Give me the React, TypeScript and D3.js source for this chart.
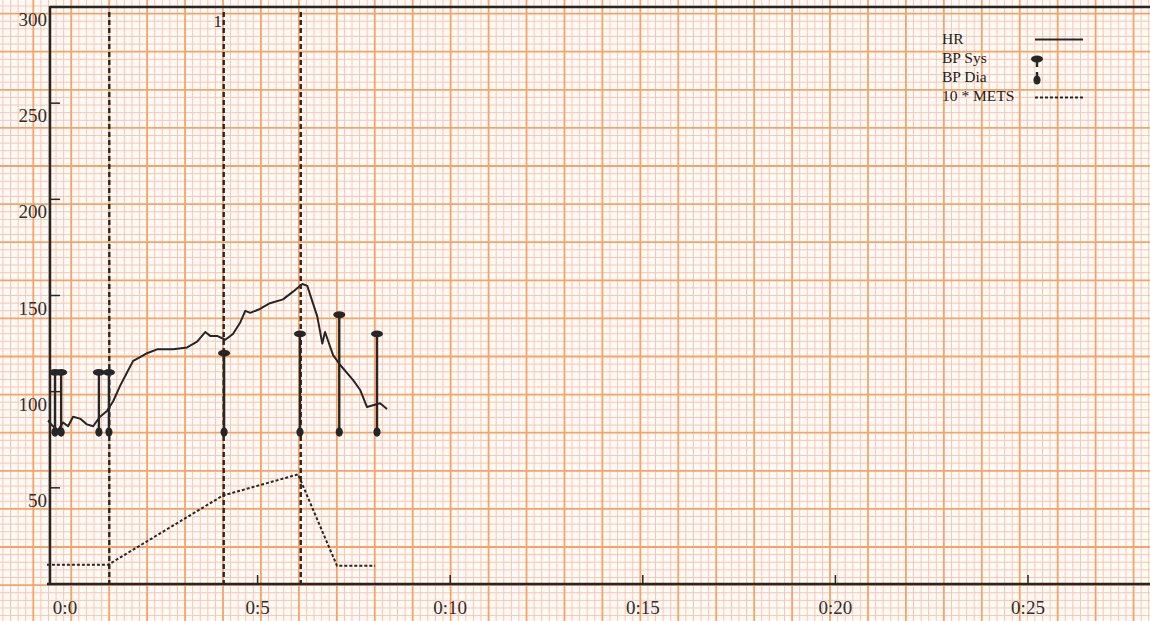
import * as d3 from "d3";
import React, { useEffect, useRef } from "react";

// heart rate trace, time in minutes
const hrTimes = [
  -0.44, -0.31, -0.18, -0.05, 0.08, 0.21, 0.39, 0.57, 0.73, 0.91, 1.09, 1.25,
  1.43, 1.61, 1.77, 1.95, 2.13, 2.39, 2.65, 2.81, 3.17, 3.43, 3.64, 3.77, 3.95,
  4.16, 4.36, 4.55, 4.68, 4.81, 5.06, 5.32, 5.66, 5.92, 6.16, 6.29, 6.55, 6.68,
  6.75, 6.96, 7.14, 7.48, 7.66, 7.84, 8.18, 8.36,
];
const hrValues = [
  85, 82, 80, 84, 82, 87, 86, 83, 82, 87, 90, 95, 103, 110, 116, 118, 120, 122,
  122, 122, 123, 126, 131, 129, 129, 127, 130, 136, 142, 141, 143, 146, 148, 152,
  156, 155, 139, 125, 131, 119, 114, 106, 101, 92, 94, 91,
];

// blood pressure readings
const bpTimes = [-0.26, -0.1, 0.88, 1.14, 4.13, 6.1, 7.12, 8.1];
const bpSys = [110, 110, 110, 110, 120, 130, 140, 130];
const bpDia = [79, 79, 79, 79, 79, 79, 79, 79];

// 10 * METS
const metTimes = [-0.47, 1.12, 4.1, 6.05, 7.06, 8.05];
const metValues = [10, 10, 46, 57, 9.5, 9.5];

// stage change markers
const stageTimes = [1.15, 4.12, 6.12];
const stageLabels = ["", "1", ""];

const xTicks = [0, 5, 10, 15, 20, 25];
const xTickLabels = ["0:0", "0:5", "0:10", "0:15", "0:20", "0:25"];
const yTicks = [50, 100, 150, 200, 250, 300];
const legendLabels = ["HR", "BP Sys", "BP Dia", "10 * METS"];

const App = () => {
  const svgRef = useRef<SVGSVGElement>(null);

  useEffect(() => {
    const width = 1150;
    const height = 621;
    const svg = d3.select(svgRef.current);
    svg.selectAll("*").remove();
    svg.attr("width", width).attr("height", height);

    const ink = "#262626";
    const font = "'Liberation Serif', 'Times New Roman', serif";

    // paper
    svg.append("rect").attr("width", width).attr("height", height).attr("fill", "#fffaf5");

    // ECG paper grid: 5 small squares per big square
    const bigX = 37.94;
    const bigY = 38.1;
    const vLines = d3.range(0, 36 * 5).map((i) => ({ p: 33.3 - bigX + (i * bigX) / 5, major: i % 5 === 0 }));
    const hLines = d3.range(0, 19 * 5).map((i) => ({ p: 13.6 - bigY + (i * bigY) / 5, major: i % 5 === 0 }));
    const grid = svg.append("g");
    [false, true].forEach((major) => {
      grid
        .selectAll(null)
        .data(vLines.filter((d) => d.major === major && d.p >= -2 && d.p <= width + 2))
        .join("line")
        .attr("x1", (d) => d.p)
        .attr("x2", (d) => d.p)
        .attr("y1", 0)
        .attr("y2", height)
        .attr("stroke", major ? "#f7a266" : "#f7c6b4")
        .attr("stroke-width", major ? 1.8 : 1);
      grid
        .selectAll(null)
        .data(hLines.filter((d) => d.major === major && d.p >= -2 && d.p <= height + 2))
        .join("line")
        .attr("x1", 0)
        .attr("x2", width)
        .attr("y1", (d) => d.p)
        .attr("y2", (d) => d.p)
        .attr("stroke", major ? "#f7a266" : "#f7c6b4")
        .attr("stroke-width", major ? 1.8 : 1);
    });

    const left = 50;
    const xScale = d3.scaleLinear().domain([0, 25]).range([65, 1028]);
    const yScale = d3.scaleLinear().domain([0, 300]).range([584, 7]);

    // frame
    svg.append("line").attr("x1", left).attr("x2", width).attr("y1", yScale(300)).attr("y2", yScale(300))
      .attr("stroke", ink).attr("stroke-width", 2.5);
    svg.append("line").attr("x1", left - 3).attr("x2", width).attr("y1", yScale(0)).attr("y2", yScale(0))
      .attr("stroke", ink).attr("stroke-width", 2.5);
    svg.append("line").attr("x1", left).attr("x2", left).attr("y1", yScale(300) - 1).attr("y2", yScale(0))
      .attr("stroke", ink).attr("stroke-width", 2.5);

    // y ticks and labels
    svg.selectAll(null).data(yTicks.filter((v) => v < 300)).join("line")
      .attr("x1", left).attr("x2", left + 10)
      .attr("y1", (d) => yScale(d)).attr("y2", (d) => yScale(d))
      .attr("stroke", ink).attr("stroke-width", 1.5);
    svg.selectAll(null).data(yTicks).join("text")
      .attr("x", left - 3).attr("y", (d) => yScale(d) + 19)
      .attr("text-anchor", "end").attr("font-family", font).attr("font-size", 19).attr("fill", "#2e2e2e")
      .text((d) => d);

    // x ticks and labels
    svg.selectAll(null).data(xTicks.filter((t) => t > 0)).join("line")
      .attr("x1", (d) => xScale(d)).attr("x2", (d) => xScale(d))
      .attr("y1", yScale(0)).attr("y2", yScale(0) - 9)
      .attr("stroke", ink).attr("stroke-width", 1.5);
    svg.selectAll(null).data(xTicks).join("text")
      .attr("x", (d) => xScale(d)).attr("y", 614)
      .attr("text-anchor", "middle").attr("font-family", font).attr("font-size", 19).attr("fill", "#2e2e2e")
      .text((d, i) => xTickLabels[i]);

    // stage markers
    svg.selectAll(null).data(stageTimes).join("line")
      .attr("x1", (d) => xScale(d)).attr("x2", (d) => xScale(d))
      .attr("y1", 12).attr("y2", yScale(0))
      .attr("stroke", ink).attr("stroke-width", 2.4).attr("stroke-dasharray", "5,3");
    svg.selectAll(null).data(stageTimes).join("text")
      .attr("x", (d) => xScale(d) - 6).attr("y", 27)
      .attr("text-anchor", "middle").attr("font-family", font).attr("font-size", 17).attr("fill", ink)
      .text((d, i) => stageLabels[i]);

    // 10 * METS
    const metLine = d3.line<number>().x((d, i) => xScale(metTimes[i])).y((d) => yScale(d));
    svg.append("path").attr("d", metLine(metValues))
      .attr("fill", "none").attr("stroke", ink).attr("stroke-width", 2).attr("stroke-dasharray", "3,2");

    // HR
    const hrLine = d3.line<number>().x((d, i) => xScale(hrTimes[i])).y((d) => yScale(d)).curve(d3.curveLinear);
    svg.append("path").attr("d", hrLine(hrValues))
      .attr("fill", "none").attr("stroke", ink).attr("stroke-width", 2).attr("stroke-linejoin", "round");

    // BP bars
    const bp = svg.append("g");
    bp.selectAll(null).data(bpTimes).join("line")
      .attr("x1", (d) => xScale(d)).attr("x2", (d) => xScale(d))
      .attr("y1", (d, i) => yScale(bpSys[i])).attr("y2", (d, i) => yScale(bpDia[i]))
      .attr("stroke", ink).attr("stroke-width", 2.4);
    bp.selectAll(null).data(bpTimes).join("ellipse")
      .attr("cx", (d) => xScale(d)).attr("cy", (d, i) => yScale(bpSys[i]))
      .attr("rx", 6).attr("ry", 3.4).attr("fill", ink);
    bp.selectAll(null).data(bpTimes).join("ellipse")
      .attr("cx", (d) => xScale(d)).attr("cy", (d, i) => yScale(bpDia[i]))
      .attr("rx", 3.6).attr("ry", 4.6).attr("fill", ink);

    // legend
    const lg = svg.append("g");
    lg.selectAll(null).data(legendLabels).join("text")
      .attr("x", 942).attr("y", (d, i) => 44 + i * 19)
      .attr("font-family", font).attr("font-size", 15.5).attr("fill", "#222")
      .text((d) => d);
    lg.append("line").attr("x1", 1035).attr("x2", 1083).attr("y1", 39.5).attr("y2", 39.5)
      .attr("stroke", ink).attr("stroke-width", 1.8);
    lg.append("line").attr("x1", 1037).attr("x2", 1037).attr("y1", 59).attr("y2", 67)
      .attr("stroke", ink).attr("stroke-width", 2.4);
    lg.append("ellipse").attr("cx", 1037).attr("cy", 59).attr("rx", 6).attr("ry", 3.4).attr("fill", ink);
    lg.append("line").attr("x1", 1037).attr("x2", 1037).attr("y1", 72).attr("y2", 80)
      .attr("stroke", ink).attr("stroke-width", 2.4);
    lg.append("ellipse").attr("cx", 1037).attr("cy", 80).attr("rx", 3.6).attr("ry", 4.6).attr("fill", ink);
    lg.append("line").attr("x1", 1035).attr("x2", 1083).attr("y1", 97.5).attr("y2", 97.5)
      .attr("stroke", ink).attr("stroke-width", 1.8).attr("stroke-dasharray", "3,2");
  }, []);

  return (
    <svg
      ref={svgRef}
      style={{ position: "absolute", left: 0, top: 0, display: "block" }}
    ></svg>
  );
};

export default App;
